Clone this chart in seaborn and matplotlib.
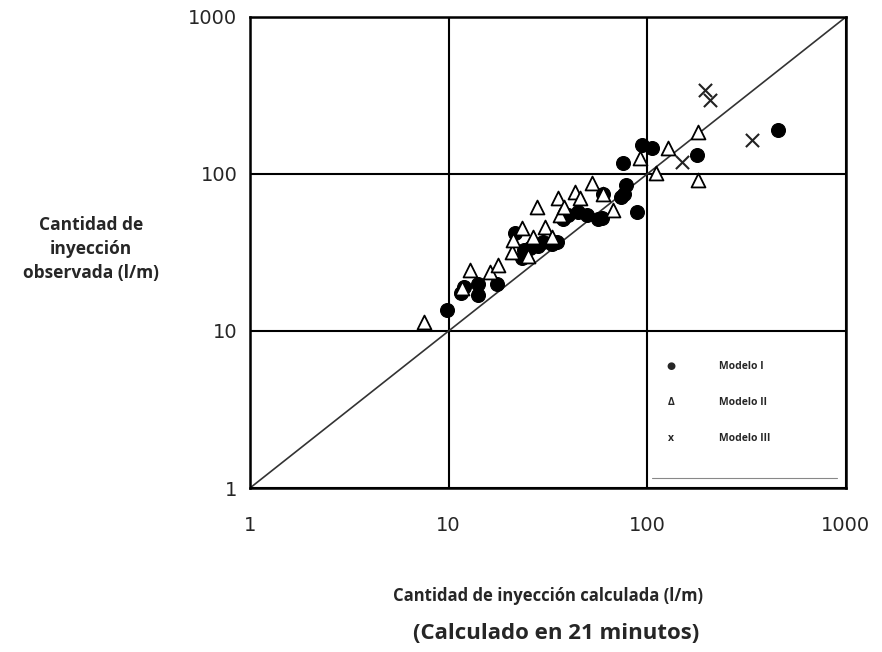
import numpy as np
import pandas as pd
import seaborn as sns
import matplotlib.pyplot as plt

# values (l/m)
m1_calc = [9.8, 11.5, 12, 14, 14, 17.5, 21.5, 23.4, 24, 25.6, 28.2, 30, 33, 35, 37.6,
           40, 44.8, 50, 56.4, 59, 60, 74, 75.4, 78, 76, 88.7, 94, 105.5, 178, 454]
m1_obs = [13.6, 17.5, 19, 20, 17, 20, 42, 29, 33, 34, 35, 37, 36, 37, 52,
          55, 57, 55, 52, 52.5, 75, 71, 117, 85, 75, 57, 153, 146, 132, 190]

m2_calc = [7.5, 11.7, 12.8, 16.1, 17.7, 20.8, 21, 23.4, 25, 26.5, 27.8, 30.5, 33,
           35.4, 36.4, 38, 43.2, 45.6, 53, 60, 67, 91.8, 111, 127, 180, 180]
m2_obs = [11.4, 18.8, 24.5, 23.7, 26.3, 31.8, 38, 45.2, 30, 39.6, 61.7, 46, 39.6,
          70, 54.9, 62, 76.7, 70, 87, 75, 58.8, 126, 101, 146, 186, 91.6]

m3_calc = [150, 195, 207, 336]
m3_obs = [119, 343, 296, 165]

ticks = [1, 10, 100, 1000]
tick_labels = ["1", "10", "100", "1000"]

df = pd.concat([
    pd.DataFrame({"calc": m1_calc, "obs": m1_obs, "modelo": "Modelo I"}),
    pd.DataFrame({"calc": m2_calc, "obs": m2_obs, "modelo": "Modelo II"}),
    pd.DataFrame({"calc": m3_calc, "obs": m3_obs, "modelo": "Modelo III"}),
])

sns.set_style("white")
plt.rcParams["font.family"] = ["Open Sans", "DejaVu Sans"]

fig = plt.figure(figsize=(8.82, 6.52), dpi=100)
ax = fig.add_axes([0.2834, 0.2515, 0.6757, 0.7225])

ax.plot([1, 1000], [1, 1000], color="#333333", lw=1.2, zorder=1)

sns.scatterplot(data=df[df.modelo == "Modelo I"], x="calc", y="obs", ax=ax,
                marker="o", s=100, color="black", edgecolor="black", zorder=3, legend=False)
sns.scatterplot(data=df[df.modelo == "Modelo II"], x="calc", y="obs", ax=ax,
                marker="^", s=100, facecolor="white", edgecolor="black", linewidth=1.3,
                zorder=4, legend=False)
sns.scatterplot(data=df[df.modelo == "Modelo III"], x="calc", y="obs", ax=ax,
                marker="x", s=90, color="#222222", linewidth=1.5, zorder=4, legend=False)

ax.set_xscale("log")
ax.set_yscale("log")
ax.set_xlim(1, 1000)
ax.set_ylim(1, 1000)
ax.set_xticks(ticks)
ax.set_xticklabels(tick_labels, fontsize=14, family="DejaVu Sans")
ax.set_yticks(ticks)
ax.set_yticklabels(tick_labels, fontsize=14, family="DejaVu Sans")
ax.minorticks_off()
ax.tick_params(axis="x", length=0, pad=20)
ax.tick_params(axis="y", length=0, pad=9)
ax.grid(True, which="major", color="black", lw=1.5)
ax.set_axisbelow(True)
for sp in ax.spines.values():
    sp.set_color("black")
    sp.set_linewidth(1.8)
ax.set_xlabel("")
ax.set_ylabel("")

# legend drawn as text inside the lower-right cell
leg_rows = [("●", "Modelo I"), ("Δ", "Modelo II"), ("x", "Modelo III")]
for i, (sym, lab) in enumerate(leg_rows):
    yf = 0.257 - i * 0.076
    ax.text(0.706, yf, sym, transform=ax.transAxes, fontsize=7.5, fontweight="bold",
            ha="center", va="center")
    ax.text(0.787, yf, lab, transform=ax.transAxes, fontsize=7.5, fontweight="bold",
            ha="left", va="center")
ax.plot([0.675, 0.985], [0.022, 0.022], transform=ax.transAxes, color="#888888", lw=0.8)

fig.text(0.103, 0.618, "Cantidad de\ninyección\nobservada (l/m)", ha="center", va="center",
         fontsize=12.5, fontweight="bold", linespacing=1.45)
fig.text(0.621, 0.086, "Cantidad de inyección calculada (l/m)", ha="center", va="center",
         fontsize=12, fontweight="bold")
fig.text(0.630, 0.029, "(Calculado en 21 minutos)", ha="center", va="center",
         fontsize=16, fontweight="bold")

fig.savefig("out.png", dpi=100)
